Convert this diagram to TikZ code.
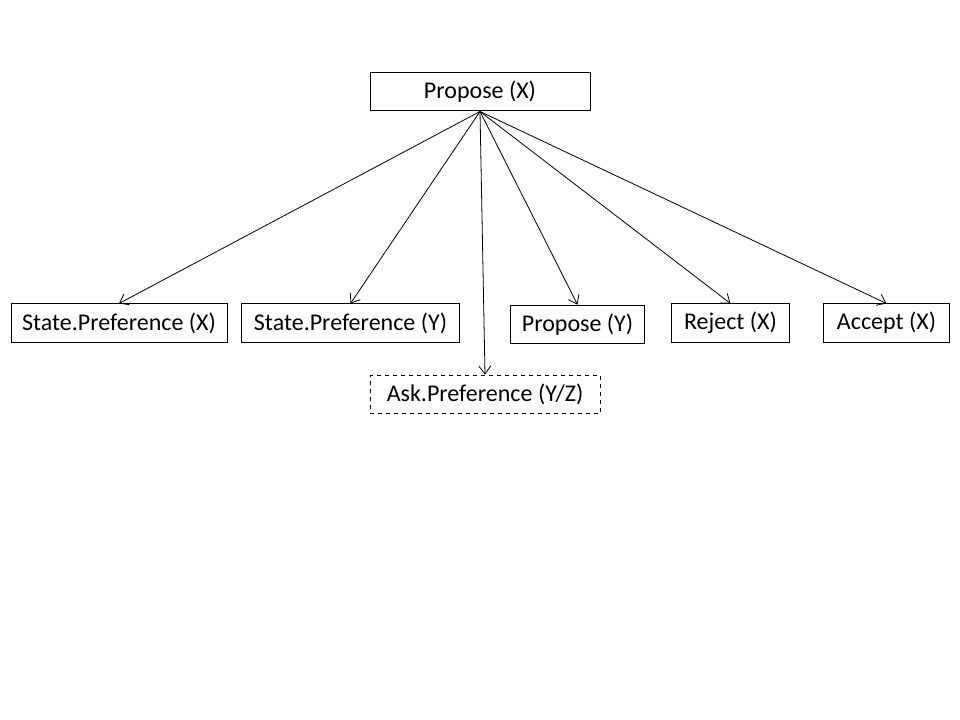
\documentclass[tikz,border=0pt]{standalone}
\usepackage{fontspec}
\setmainfont{Carlito}
\usetikzlibrary{arrows.meta}

\tikzset{
    act/.style={draw, line width=0.75pt, inner sep=0pt, align=center,
        font=\fontsize{18}{21}\selectfont, minimum height=28.5pt},
    optact/.style={act, dashed},
    link/.style={line width=0.6pt, -{Straight Barb[length=6pt, width=9pt]}}
}

\begin{document}
\begin{tikzpicture}[x=0.75pt, y=-0.75pt]
        \useasboundingbox (0, 0) rectangle (960, 720);

        \node[act, minimum width=165pt] (propX) at (480, 92) {Propose (X)};

        \node[act, minimum width=162pt] (stateX) at (119, 323) {State.Preference (X)};
        \node[act, minimum width=164pt] (stateY) at (350.5, 323) {State.Preference (Y)};
        \node[optact, minimum width=172.5pt, minimum height=29pt] (askYZ) at (485, 394.5) {Ask.Preference (Y/Z)};
        \node[act, minimum width=101pt, minimum height=29pt] (propY) at (577.5, 324.5) {Propose (Y)};
        \node[act, minimum width=89pt] (rejX) at (730.5, 323) {Reject (X)};
        \node[act, minimum width=94pt] (accX) at (886.5, 323) {Accept (X)};

        % replies to the proposal
        \foreach \n in {stateX, stateY, askYZ, propY, rejX, accX}
            \draw[link] (propX.south) -- (\n.north);
\end{tikzpicture}
\end{document}
